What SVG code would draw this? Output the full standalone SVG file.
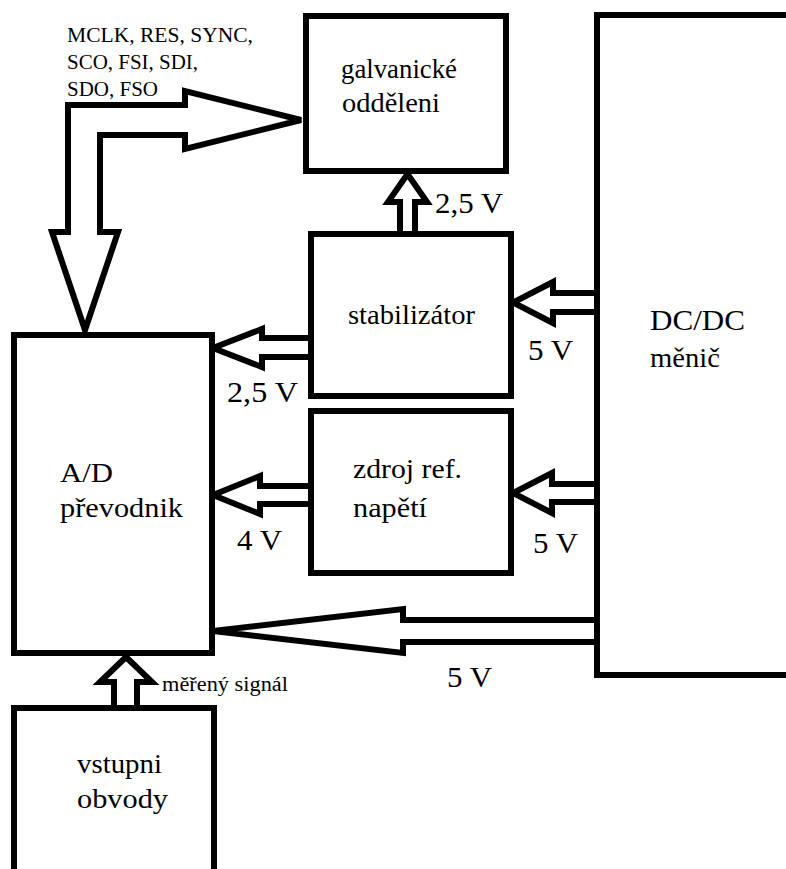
<svg xmlns="http://www.w3.org/2000/svg" width="786" height="869" viewBox="0 0 786 869" font-family="Liberation Serif, Times New Roman, DejaVu Serif, serif">
<style>
.box{fill:#fff;stroke:#000;stroke-width:6}
.arr{fill:#fff;stroke:#000;stroke-width:6;stroke-linejoin:miter}
text{font-family:'Liberation Serif','Times New Roman','DejaVu Serif',serif;fill:#000}
.t{font-size:27px}
.v{font-size:29px}
.s{font-size:20px}
</style>
<rect width="786" height="869" fill="#fff"/>
<g id="connectors">
<polygon class="arr" points="68,105 185,105 185,91 301,120 185,149 185,135 100,135 100,232 118,232 85,330 52,232 68,232"/>
<polygon class="arr" points="400,234 400,202 388,202 407.5,174 427,202 415,202 415,234"/>
<polygon class="arr" points="597,293 553,293 553,282 513,302.5 553,323 553,312 597,312"/>
<polygon class="arr" points="311,338 262,338 262,329 213,348 262,367 262,357 311,357"/>
<polygon class="arr" points="311,486 260,486 260,476 213,495 260,514 260,504 311,504"/>
<polygon class="arr" points="597,484 552,484 552,473 513,493 552,513 552,502 597,502"/>
<polygon class="arr" points="597,620 403,620 403,609 213,631 403,653 403,642 597,642"/>
<polygon class="arr" points="114,708 114,682 100,682 126,657 152,682 137,682 137,708"/>
<text class="v" x="435" y="213" textLength="68" lengthAdjust="spacingAndGlyphs">2,5 V</text>
<text class="v" x="528" y="360" textLength="45" lengthAdjust="spacingAndGlyphs">5 V</text>
<text class="v" x="227" y="402" textLength="71" lengthAdjust="spacingAndGlyphs">2,5 V</text>
<text class="v" x="237" y="550" textLength="45" lengthAdjust="spacingAndGlyphs">4 V</text>
<text class="v" x="533" y="553" textLength="45" lengthAdjust="spacingAndGlyphs">5 V</text>
<text class="v" x="447" y="687" textLength="45" lengthAdjust="spacingAndGlyphs">5 V</text>
<text class="s" x="162" y="691" textLength="126" lengthAdjust="spacingAndGlyphs">měřený signál</text>
<text class="s" x="67" y="42" textLength="186" lengthAdjust="spacingAndGlyphs">MCLK, RES, SYNC,</text>
<text class="s" x="67" y="69" textLength="131" lengthAdjust="spacingAndGlyphs">SCO, FSI, SDI,</text>
<text class="s" x="67" y="96" textLength="91" lengthAdjust="spacingAndGlyphs">SDO, FSO</text>
</g>
<g id="galv">
<rect class="box" x="306" y="16" width="200" height="155"/>
<text class="t" x="341" y="78" textLength="116" lengthAdjust="spacingAndGlyphs">galvanické</text>
<text class="t" x="342" y="112" textLength="98" lengthAdjust="spacingAndGlyphs">odděleni</text>
</g>
<g id="stab">
<rect class="box" x="311" y="234" width="200" height="162"/>
<text class="t" x="348" y="324" textLength="127" lengthAdjust="spacingAndGlyphs">stabilizátor</text>
</g>
<g id="zdroj">
<rect class="box" x="311" y="411" width="200" height="162"/>
<text class="t" x="353" y="478" textLength="109" lengthAdjust="spacingAndGlyphs">zdroj ref.</text>
<text class="t" x="353" y="517" textLength="74" lengthAdjust="spacingAndGlyphs">napětí</text>
</g>
<g id="dcdc">
<rect class="box" x="597" y="15" width="300" height="660"/>
<text class="v" x="650" y="330" textLength="95" lengthAdjust="spacingAndGlyphs">DC/DC</text>
<text class="t" x="650" y="367" textLength="70" lengthAdjust="spacingAndGlyphs">měnič</text>
</g>
<g id="ad">
<rect class="box" x="14" y="335" width="198" height="318"/>
<text class="t" x="60" y="482" textLength="53" lengthAdjust="spacingAndGlyphs">A/D</text>
<text class="t" x="60" y="517" textLength="123" lengthAdjust="spacingAndGlyphs">převodnik</text>
</g>
<g id="vstup">
<rect class="box" x="14" y="708" width="200" height="300"/>
<text class="t" x="77" y="773" textLength="85" lengthAdjust="spacingAndGlyphs">vstupni</text>
<text class="t" x="77" y="808" textLength="91" lengthAdjust="spacingAndGlyphs">obvody</text>
</g>
</svg>
